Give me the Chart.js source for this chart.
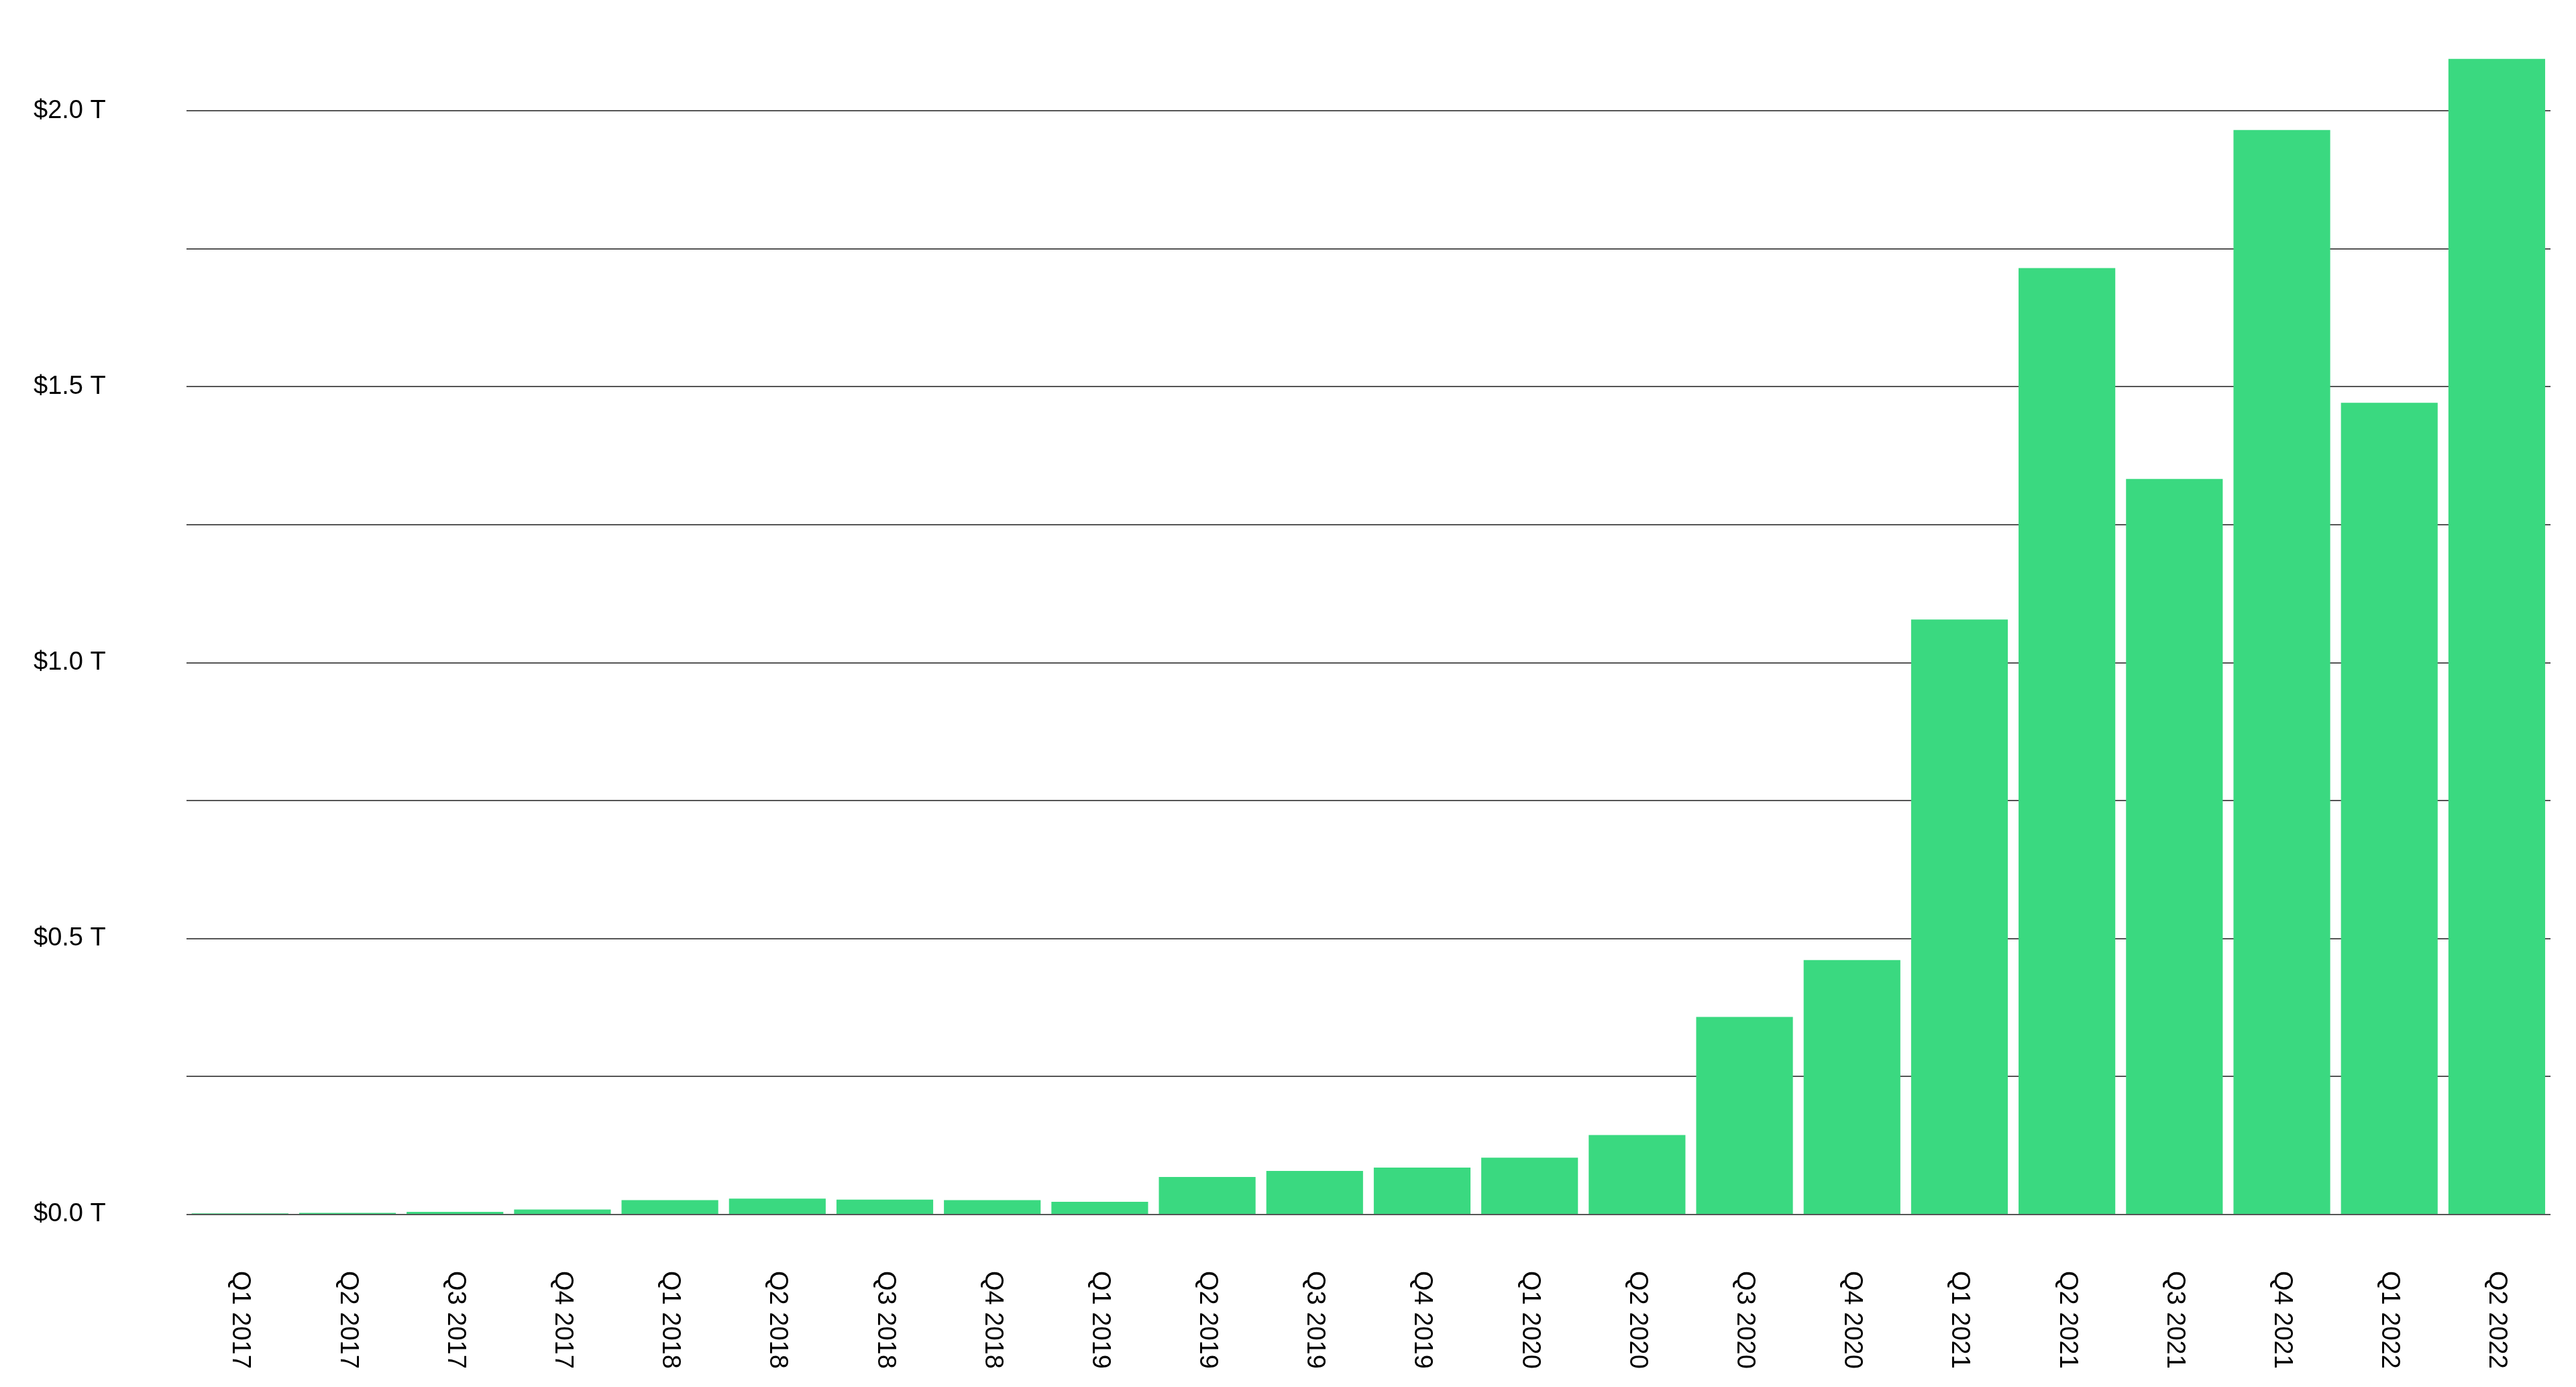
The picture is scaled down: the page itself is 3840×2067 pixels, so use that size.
<!DOCTYPE html>
<html>
<head>
<meta charset="utf-8">
<script src="https://cdn.jsdelivr.net/npm/chart.js@4"></script>
<style>
  html, body { margin: 0; padding: 0; background: #fff; }
  #wrap { width: 3840px; height: 2067px; }
</style>
</head>
<body>
<div id="wrap"><canvas id="chart"></canvas></div>
<script>
const quarters = ["Q1 2017","Q2 2017","Q3 2017","Q4 2017","Q1 2018","Q2 2018","Q3 2018","Q4 2018",
  "Q1 2019","Q2 2019","Q3 2019","Q4 2019","Q1 2020","Q2 2020","Q3 2020","Q4 2020",
  "Q1 2021","Q2 2021","Q3 2021","Q4 2021","Q1 2022","Q2 2022"];
const volumeT = [0.002,0.003,0.005,0.009,0.026,0.029,0.027,0.026,
  0.023,0.068,0.079,0.085,0.103,0.144,0.358,0.461,
  1.078,1.715,1.333,1.965,1.471,2.094];

const fontFamily = "'Liberation Sans', Arial, sans-serif";

// x labels read top-to-bottom, so draw them ourselves at the scale's tick positions
const verticalLabels = {
  id: "verticalLabels",
  afterDraw(chart) {
    const ctx = chart.ctx;
    const xs = chart.scales.x;
    ctx.save();
    ctx.font = "38px " + fontFamily;
    ctx.fillStyle = "#000";
    ctx.textAlign = "left";
    ctx.textBaseline = "middle";
    quarters.forEach(function(q, i) {
      const x = xs.getPixelForTick(i);
      ctx.save();
      ctx.translate(x, chart.chartArea.bottom + 84);
      ctx.rotate(Math.PI / 2);
      ctx.fillText(q, 0, 0);
      ctx.restore();
    });
    ctx.restore();
  }
};

new Chart(document.getElementById("chart"), {
  type: "bar",
  data: {
    labels: quarters,
    datasets: [{
      data: volumeT,
      backgroundColor: "#3ad980",
      categoryPercentage: 1.0,
      barPercentage: 0.9
    }]
  },
  plugins: [verticalLabels],
  options: {
    responsive: true,
    maintainAspectRatio: false,
    animation: false,
    layout: { padding: { top: 45, right: 38, bottom: 249, left: 50 } },
    plugins: { legend: { display: false }, tooltip: { enabled: false } },
    scales: {
      x: {
        grid: { display: false },
        border: { display: false },
        ticks: { display: false }
      },
      y: {
        min: 0,
        max: 2.1,
        afterBuildTicks(axis) {
          axis.ticks = [0, 0.25, 0.5, 0.75, 1, 1.25, 1.5, 1.75, 2].map(function(v) { return { value: v }; });
        },
        grid: { color: "#555", lineWidth: 2, drawTicks: false },
        border: { display: false },
        ticks: {
          padding: 60,
          crossAlign: "far",
          color: "#000",
          font: { size: 38, family: fontFamily },
          callback: function(v) {
            return (Math.round(v * 100) % 50 === 0) ? "$" + v.toFixed(1) + " T" : "";
          }
        }
      }
    }
  }
});
</script>
</body>
</html>
